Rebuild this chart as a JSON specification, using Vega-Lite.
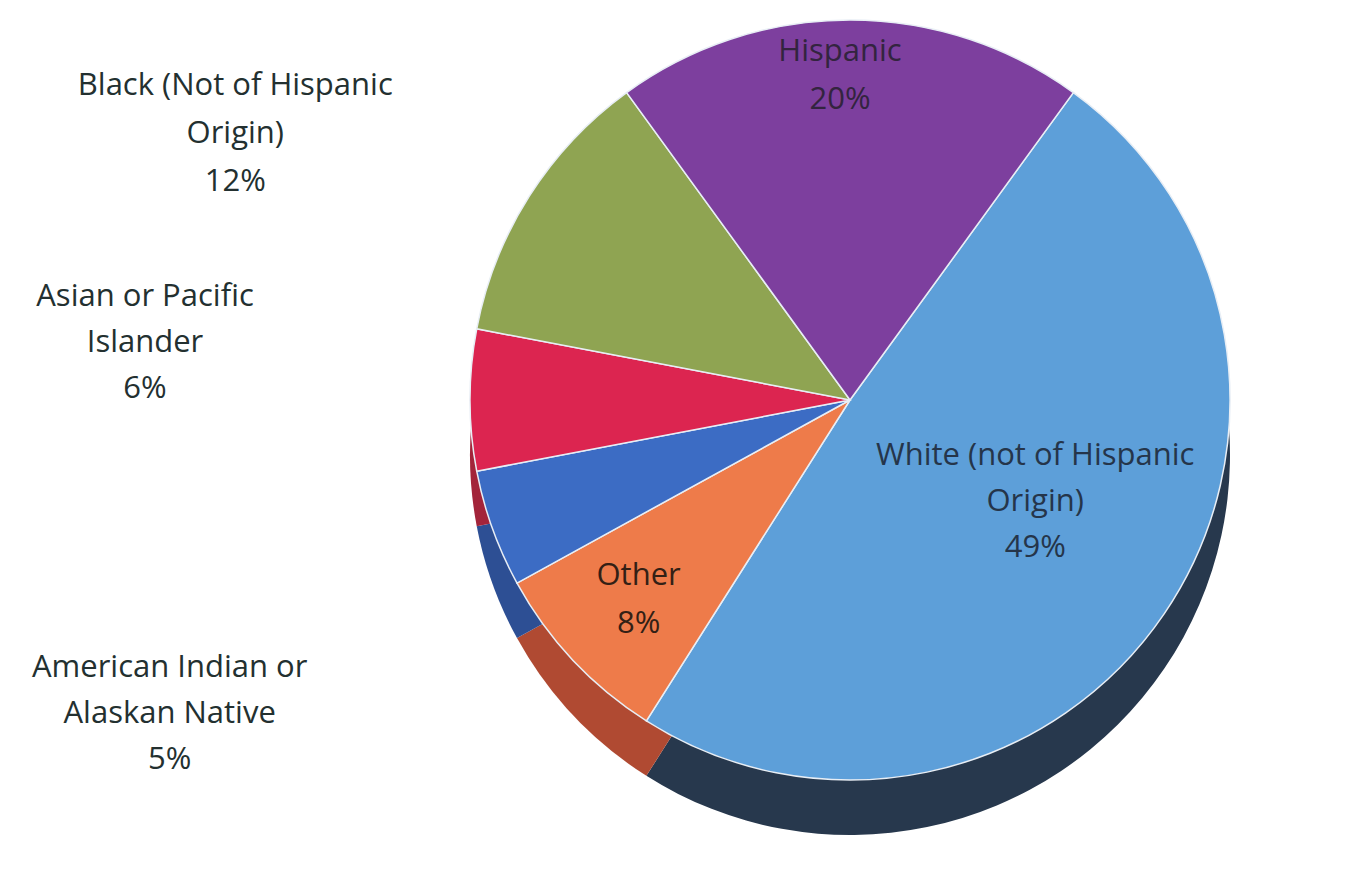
{
  "$schema": "https://vega.github.io/schema/vega-lite/v6.json",
  "autosize": {"type": "none"},
  "width": 1000,
  "height": 800,
  "padding": {"left": 350, "top": 0, "right": 0, "bottom": 74},
  "background": "white",
  "config": {"view": {"stroke": null}, "text": {"font": "Open Sans"}},
  "data": {
    "values": [
      {"group": "White", "k": 1, "pct": 49, "label": "White (not of Hispanic\nOrigin)\n49%"},
      {"group": "Other", "k": 2, "pct": 8, "label": "Other\n8%"},
      {"group": "AIAN", "k": 3, "pct": 5, "label": "American Indian or\nAlaskan Native\n5%"},
      {"group": "Asian", "k": 4, "pct": 6, "label": "Asian or Pacific\nIslander\n6%"},
      {"group": "Black", "k": 5, "pct": 12, "label": "Black (Not of Hispanic\nOrigin)\n12%"},
      {"group": "Hispanic", "k": 6, "pct": 20, "label": "Hispanic\n20%"}
    ]
  },
  "encoding": {
    "theta": {"field": "pct", "type": "quantitative", "stack": true, "scale": {"range": [0.6283, 6.9115]}},
    "order": {"field": "k", "type": "quantitative"}
  },
  "layer": [
    {
      "mark": {"type": "arc", "outerRadius": 380, "yOffset": 55},
      "encoding": {
        "color": {"field": "group", "type": "nominal", "legend": null,
          "scale": {"domain": ["White", "Other", "AIAN", "Asian", "Black", "Hispanic"],
                    "range": ["#27384d", "#b04a32", "#2d4f94", "#a3243a", "#6b7b3a", "#5a2c72"]}}
      }
    },
    {
      "mark": {"type": "arc", "outerRadius": 380, "stroke": "#e8eef5", "strokeWidth": 1.5},
      "encoding": {
        "fill": {"field": "group", "type": "nominal", "legend": null,
          "scale": {"domain": ["White", "Other", "AIAN", "Asian", "Black", "Hispanic"],
                    "range": ["#5d9fd9", "#ee7b4a", "#3c6cc4", "#dc2550", "#8fa452", "#7d3f9e"]}}
      }
    },
    {
      "mark": {"type": "text", "radius": 340, "dx": -96, "dy": -135, "fontSize": 31, "lineHeight": 46, "lineBreak": "\n", "align": "center", "baseline": "middle", "fill": "#25354a"},
      "encoding": {"text": {"condition": {"test": "datum.group === 'White'", "field": "label"}, "value": ""}}
    },
    {
      "mark": {"type": "text", "radius": 310, "dx": -10, "dy": -38, "fontSize": 31, "lineHeight": 48, "lineBreak": "\n", "align": "center", "baseline": "middle", "fill": "#33243f"},
      "encoding": {"text": {"condition": {"test": "datum.group === 'Hispanic'", "field": "label"}, "value": ""}}
    },
    {
      "mark": {"type": "text", "radius": 290, "dx": 0, "dy": -23, "fontSize": 31, "lineHeight": 48, "lineBreak": "\n", "align": "center", "baseline": "middle", "fill": "#332015"},
      "encoding": {"text": {"condition": {"test": "datum.group === 'Other'", "field": "label"}, "value": ""}}
    },
    {
      "mark": {"type": "text", "radius": 400, "dx": -277, "dy": -100, "fontSize": 31, "lineHeight": 48, "lineBreak": "\n", "align": "center", "baseline": "middle", "fill": "#233030"},
      "encoding": {"text": {"condition": {"test": "datum.group === 'Black'", "field": "label"}, "value": ""}}
    },
    {
      "mark": {"type": "text", "radius": 400, "dx": -305, "dy": -103, "fontSize": 31, "lineHeight": 46, "lineBreak": "\n", "align": "center", "baseline": "middle", "fill": "#233030"},
      "encoding": {"text": {"condition": {"test": "datum.group === 'Asian'", "field": "label"}, "value": ""}}
    },
    {
      "mark": {"type": "text", "radius": 400, "dx": -304, "dy": 133, "fontSize": 31, "lineHeight": 46, "lineBreak": "\n", "align": "center", "baseline": "middle", "fill": "#233030"},
      "encoding": {"text": {"condition": {"test": "datum.group === 'AIAN'", "field": "label"}, "value": ""}}
    }
  ]
}
